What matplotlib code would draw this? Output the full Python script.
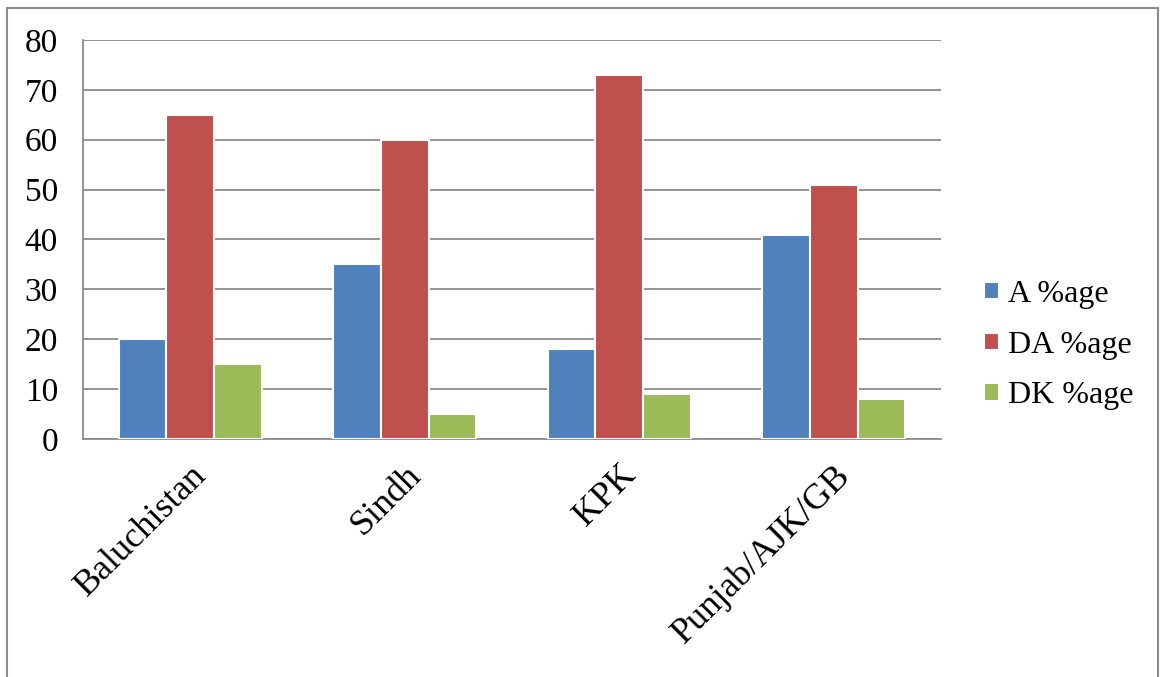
import numpy as np
import matplotlib.pyplot as plt
from matplotlib.patches import Rectangle

plt.rcParams['font.family'] = ['Liberation Serif', 'DejaVu Serif']

regions = ['Baluchistan', 'Sindh', 'KPK', 'Punjab/AJK/GB']
series = ['A %age', 'DA %age', 'DK %age']
a_pct = [20, 35, 18, 41]
da_pct = [65, 60, 73, 51]
dk_pct = [15, 5, 9, 8]
colors = ['#4F81BD', '#C0504D', '#9BBB59']

fig = plt.figure(figsize=(11.6, 6.77), dpi=100)
ax = fig.add_axes([83/1160, 1-439/677, (941-83)/1160, (439-40)/677])

x = np.arange(len(regions))
w = 0.222
for k, vals in enumerate([a_pct, da_pct, dk_pct]):
    ax.bar(x + (k-1)*w, vals, w, color=colors[k], edgecolor='white',
           linewidth=1.5, label=series[k], zorder=3)

ax.set_xlim(-0.5, len(regions)-0.5)
ax.set_ylim(0, 80)
ax.set_yticks(np.arange(0, 81, 10))
ax.grid(axis='y', color='#8c8c8c', linewidth=1.3, zorder=0)
for s in ['top', 'right']:
    ax.spines[s].set_visible(False)
for s in ['left', 'bottom']:
    ax.spines[s].set_color('#8c8c8c')
    ax.spines[s].set_linewidth(1.3)
ax.tick_params(axis='both', length=0)
ax.tick_params(axis='y', labelsize=24, pad=18)
ax.tick_params(axis='x', pad=14)
ax.set_xticks(x)
ax.set_xticklabels(regions, rotation=45, ha='right', rotation_mode='anchor', fontsize=26)

leg = ax.legend(loc='center left', bbox_to_anchor=(1.017, 0.235), frameon=False,
                fontsize=23, handlelength=0.45, handleheight=0.45,
                handletextpad=0.3, labelspacing=0.68)

# outer frame around the chart
fig.patches.append(Rectangle((7/1160, -0.05), (1158-7)/1160, 1.05 - 8/677,
                             transform=fig.transFigure, fill=False,
                             edgecolor='#8c8c8c', linewidth=1.5))

fig.savefig('out.png', dpi=100)
